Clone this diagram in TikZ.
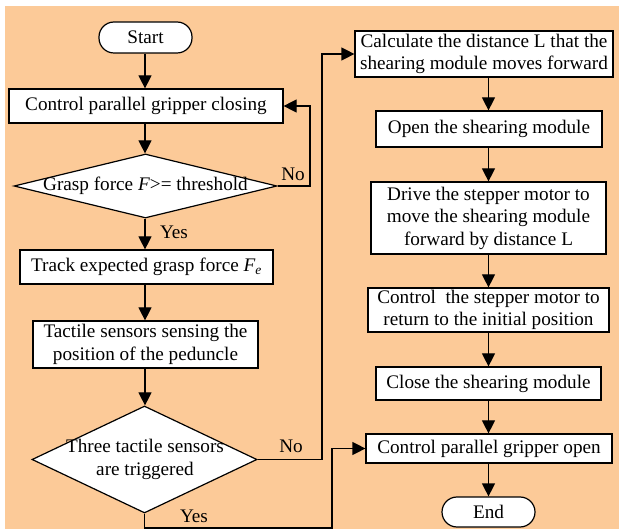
\documentclass[tikz,border=0pt]{standalone}
\usepackage{fontspec}
\setmainfont{Liberation Serif}
\usetikzlibrary{arrows.meta,shapes.geometric}
\definecolor{peach}{HTML}{FCCA98}
\tikzset{
  every node/.style={font=\fontsize{19.2}{22.5}\selectfont},
  box/.style={draw, fill=white, line width=1.2pt, inner sep=0pt, align=center},
  term/.style={box, rounded corners=15pt},
  dia/.style={draw, fill=white, line width=1.2pt, shape=diamond, inner sep=0pt},
  arr/.style={line width=1.2pt, -{Triangle[length=13pt,width=13pt]}},
  lbl/.style={inner sep=0pt}
}
\begin{document}
\begin{tikzpicture}[x=1pt,y=-1pt]
\useasboundingbox (0,0) rectangle (619,529);
\fill[peach] (5,6) rectangle (619,529);
% left column
\node[term, minimum width=93pt, minimum height=31pt] (start) at (145.5,37.5) {Start};
\node[box, minimum width=274pt, minimum height=34pt] (b1) at (146,106) {Control parallel gripper closing};
\node[dia, minimum width=263pt, minimum height=64pt] (d1) at (145.5,186) {};
\node[lbl] (d1t) at (145.5,186) {Grasp force \textit{F}>= threshold};
\node[box, minimum width=253pt, minimum height=34pt] (track) at (146.5,267) {Track expected grasp force \textit{F}\textsubscript{\textit{e}}};
\node[box, minimum width=225pt, minimum height=47pt] (tact) at (145.5,344.5) {Tactile sensors sensing the\\position of the peduncle};
\node[dia, minimum width=225pt, minimum height=107pt] (d2) at (144.5,459.5) {};
\node[lbl, align=center] (d2t) at (145,459.5) {Three tactile sensors\\are triggered};
% right column
\node[box, minimum width=258pt, minimum height=46pt] (calc) at (484,54) {Calculate the distance L that the\\shearing module moves forward};
\node[box, minimum width=226pt, minimum height=36pt] (open) at (489,129) {Open the shearing module};
\node[box, minimum width=235pt, minimum height=72pt] (drive) at (488.5,218) {Drive the stepper motor to\\move the shearing module\\forward by distance L};
\node[box, minimum width=241pt, minimum height=44pt] (step) at (488.5,310) {Control\ \ the stepper motor to\\return to the initial position};
\node[box, minimum width=225pt, minimum height=33pt] (close) at (488.5,383.5) {Close the shearing module};
\node[box, minimum width=246pt, minimum height=29pt] (gopen) at (489,448.5) {Control parallel gripper open};
\node[term, minimum width=93pt, minimum height=30pt] (end) at (488.5,512) {End};
% column coordinates
\coordinate (lx) at (145,0);
\coordinate (rx) at (488.5,0);
\coordinate (n1) at (310,0);
\coordinate (n2) at (322,0);
\coordinate (y2) at (332,0);
\coordinate (yb) at (0,528);
% left arrows
\draw[arr] (start.south -| lx) -- (b1.north -| lx);
\draw[arr] (b1.south -| lx) -- (d1.north -| lx);
\draw[arr] (d1.south -| lx) -- (track.north -| lx);
\draw[arr] (track.south -| lx) -- (tact.north -| lx);
\draw[arr] (tact.south -| lx) -- (d2.north -| lx);
% right arrows
\draw[arr] (calc.south -| rx) -- (open.north -| rx);
\draw[arr] (open.south -| rx) -- (drive.north -| rx);
\draw[arr] (drive.south -| rx) -- (step.north -| rx);
\draw[arr] (step.south -| rx) -- (close.north -| rx);
\draw[arr] (close.south -| rx) -- (gopen.north -| rx);
\draw[arr] (gopen.south -| rx) -- (end.north -| rx);
% loops
\draw[arr] (d1.east) -- (d1.east -| n1) |- (b1.east);
\draw[arr] (d2.east) -- (d2.east -| n2) |- (calc.west);
\draw[arr] (d2.south) -- (yb -| d2.south) -- (yb -| y2) |- (gopen.west);
% labels
\node[lbl] (no1) at (293,174) {No};
\node[lbl] (yes1) at (174,232) {Yes};
\node[lbl] (no2) at (291,446) {No};
\node[lbl] (yes2) at (194,516) {Yes};
\end{tikzpicture}
\end{document}
